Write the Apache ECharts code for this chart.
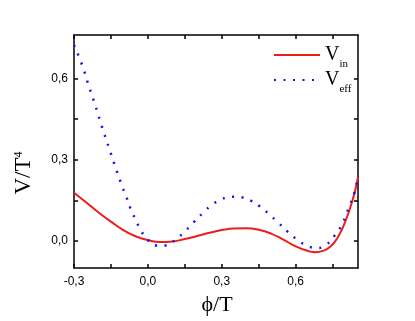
<!DOCTYPE html>
<html>
<head>
<meta charset="utf-8">
<script src="https://cdn.jsdelivr.net/npm/echarts@6/dist/echarts.min.js"></script>
<style>
  html, body { margin: 0; background: #fff; }
  #chart { width: 415px; height: 321px; }
</style>
</head>
<body>
<div id="chart"></div>
<script>
// tick positions
var xTickLabels = [-0.3, 0.0, 0.3, 0.6];
var xTickAll = [-0.3, -0.15, 0.0, 0.15, 0.3, 0.45, 0.6, 0.75];
var yTickLabels = [0.0, 0.3, 0.6];
var yTickAll = [0.0, 0.15, 0.3, 0.45, 0.6];

// V_in (solid red), [phi/T, V/T^4]
var vIn = [
  [-0.3, 0.178], [-0.25, 0.142], [-0.2, 0.105], [-0.15, 0.071], [-0.1, 0.040],
  [-0.05, 0.017], [0.0, 0.003], [0.05, -0.004], [0.1, -0.002], [0.15, 0.007],
  [0.2, 0.018], [0.25, 0.030], [0.3, 0.040], [0.35, 0.046], [0.4, 0.047],
  [0.45, 0.041], [0.5, 0.027], [0.55, 0.005], [0.6, -0.020], [0.65, -0.037],
  [0.68, -0.042], [0.71, -0.037], [0.74, -0.022], [0.77, 0.012], [0.8, 0.068],
  [0.83, 0.147], [0.853, 0.235]
];

// V_eff (dotted blue)
var vEff = [
  [-0.3, 0.723], [-0.267, 0.649], [-0.24, 0.572], [-0.212, 0.496], [-0.186, 0.42],
  [-0.159, 0.346], [-0.132, 0.273], [-0.103, 0.198], [-0.087, 0.161], [-0.071, 0.121],
  [-0.053, 0.084], [-0.033, 0.047], [-0.006, 0.01], [0.033, -0.017], [0.073, -0.017],
  [0.11, 0.003], [0.149, 0.034], [0.186, 0.069], [0.224, 0.104], [0.262, 0.134],
  [0.299, 0.154], [0.34, 0.163], [0.38, 0.161], [0.417, 0.149], [0.455, 0.127],
  [0.493, 0.098], [0.532, 0.065], [0.57, 0.032], [0.608, 0.003], [0.647, -0.018],
  [0.685, -0.026], [0.723, -0.015], [0.76, 0.022], [0.787, 0.059], [0.804, 0.096],
  [0.82, 0.133], [0.838, 0.176], [0.853, 0.236]
];

var serif = '"Liberation Serif", "Times New Roman", serif';
var sans = '"Liberation Sans", Arial, sans-serif';

function fmt(v) {
  return v.toFixed(1).replace('.', ',');
}

function makeAxis(pos, min, max, labels, ticks, showLabel, margin) {
  return {
    type: 'value',
    position: pos,
    min: min,
    max: max,
    axisLine: { show: true, onZero: false, lineStyle: { color: '#000', width: 1.5 } },
    axisTick: { show: true, inside: true, length: 4, customValues: ticks,
                lineStyle: { color: '#000', width: 1.5 } },
    axisLabel: { show: showLabel, customValues: labels, formatter: fmt, margin: margin,
                 color: '#000', fontFamily: sans, fontSize: 12 },
    splitLine: { show: false }
  };
}

var legendRich = {
  v: { fontFamily: serif, fontSize: 20, lineHeight: 20, verticalAlign: 'top', color: '#000' },
  s: { fontFamily: serif, fontSize: 11, lineHeight: 11, verticalAlign: 'top', padding: [14, 0, 0, 0], color: '#000' }
};

var myChart = echarts.init(document.getElementById('chart'));
myChart.setOption({
  animation: false,
  backgroundColor: '#fff',
  grid: { left: 74, right: 57, top: 35, bottom: 53 },
  xAxis: [
    makeAxis('bottom', -0.3, 0.853, xTickLabels, xTickAll, true, 8),
    makeAxis('top', -0.3, 0.853, xTickLabels, xTickAll, false, 8)
  ],
  yAxis: [
    makeAxis('left', -0.1, 0.76, yTickLabels, yTickAll, true, 6),
    makeAxis('right', -0.1, 0.76, yTickLabels, yTickAll, false, 6)
  ],
  legend: [
    { data: ['Vin'], left: 273, top: 45, padding: 0, itemWidth: 46, itemHeight: 14, itemGap: 0,
      selectedMode: false, itemStyle: { opacity: 0 },
      formatter: function () { return '{v|V}{s|in}'; },
      textStyle: { rich: legendRich } },
    { data: ['Veff'], left: 273, top: 70, padding: 0, itemWidth: 46, itemHeight: 14, itemGap: 0,
      selectedMode: false, itemStyle: { opacity: 0 },
      formatter: function () { return '{v|V}{s|eff}'; },
      textStyle: { rich: legendRich } }
  ],
  graphic: [
    { type: 'text', x: 24, y: 173, rotation: Math.PI / 2,
      style: { text: '{a|V/T}{b|4}', align: 'center', verticalAlign: 'middle',
               rich: { a: { fontFamily: serif, fontSize: 23, fill: '#000', verticalAlign: 'bottom' },
                       b: { fontFamily: serif, fontSize: 12, fill: '#000', verticalAlign: 'top' } } } },
    { type: 'text', x: 217, y: 305,
      style: { text: 'ϕ/T', font: '22px ' + serif, fill: '#000', align: 'center', verticalAlign: 'middle' } }
  ],
  series: [
    { name: 'Vin', type: 'line', data: vIn, smooth: true, symbol: 'none',
      itemStyle: { color: '#ee1c1c' },
      lineStyle: { color: '#ee1c1c', width: 2 } },
    { name: 'Veff', type: 'line', data: vEff, smooth: true, symbol: 'none',
      itemStyle: { color: '#1414ee' },
      lineStyle: { color: '#1414ee', width: 2.5, type: [2, 7.5] } }
  ]
});
</script>
</body>
</html>
